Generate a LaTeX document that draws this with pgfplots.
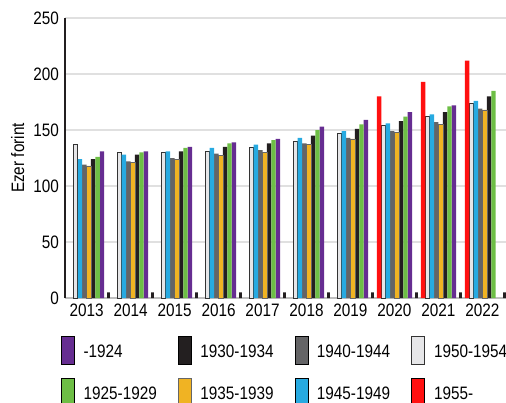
\documentclass[border=0pt]{standalone}
\usepackage{pgfplots}
\pgfplotsset{compat=1.18}
\usepackage{fontspec}
\setmainfont{Liberation Sans}[FakeStretch=0.85]

\definecolor{cPurple}{HTML}{662D91}
\definecolor{cBlack}{HTML}{231F20}
\definecolor{cDgray}{HTML}{646466}
\definecolor{cLgray}{HTML}{E6E6E8}
\definecolor{cGreen}{HTML}{6DBE45}
\definecolor{cOrange}{HTML}{F0B323}
\definecolor{cBlue}{HTML}{27AAE1}
\definecolor{cRed}{HTML}{FF1010}

\pgfplotsset{
  boxlegend/.style={legend image code/.code={\draw[##1] (0pt,-11.5pt) rectangle (13pt,16.5pt);}},
  bars/.style={ybar, bar width=0.1, boxlegend},
}

% values by cohort, x = 0..9 for 2013..2022
\pgfplotstableread{
x  lg   bl   dg   or   bk   gr   pu
0  137  124  119  118  124  126  131
1  130  128  122  121  128  130  131
2  130  131  125  124  131  134  135
3  131  134  129  127  135  138  139
4  134  137  132  130  138  141  142
5  140  143  138  137  145  150  153
6  147  149  143  142  151  155  159
7  154  156  149  148  158  162  166
8  162  164  157  155  166  171  172
9  174  176  169  168  180  185  nan
}\cohorts

\begin{document}
\fontsize{18}{21}\selectfont
\begin{tikzpicture}
\begin{axis}[
  scale only axis,
  width=441pt, height=280pt,
  at={(0,0)}, anchor=south west,
  xmin=-0.49, xmax=9.535,
  ymin=0, ymax=250,
  xtick={0,...,9},
  xticklabels={2013,2014,2015,2016,2017,2018,2019,2020,2021,2022},
  ytick={0,50,...,250},
  /pgf/number format/assume math mode=true,
  major tick length=0pt,
  axis x line*=bottom,
  axis y line*=left,
  x axis line style={draw=black!25, line width=2pt},
  y axis line style={draw=cBlack, line width=2.5pt},
  ymajorgrids,
  grid style={draw=black!12, line width=1.5pt},
  ylabel={Ezer forint},
  every axis y label/.style={at={(axis description cs:-0.107,0.5)}, rotate=90, anchor=center},
  legend columns=4,
  legend cell align=left,
  legend style={at={(axis description cs:-0.009,-0.134)}, anchor=north west,
    draw=none, fill=none, inner sep=0pt, row sep=13pt,
    /tikz/every odd column/.append style={column sep=7pt},
    /tikz/every even column/.append style={column sep=19pt}},
]
\addplot[bars, bar shift=0.35, fill=cPurple, draw=none] table[x=x, y=pu] {\cohorts};
\addlegendentry{-1924}
\addplot[bars, bar shift=0.15, fill=cBlack, draw=none] table[x=x, y=bk] {\cohorts};
\addlegendentry{1930-1934}
\addplot[bars, bar shift=-0.05, fill=cDgray, draw=none] table[x=x, y=dg] {\cohorts};
\addlegendentry{1940-1944}
\addplot[bars, bar shift=-0.25, fill=cLgray, draw=black!80, line width=0.9pt] table[x=x, y=lg] {\cohorts};
\addlegendentry{1950-1954}
\addplot[bars, bar shift=0.25, fill=cGreen, draw=none] table[x=x, y=gr] {\cohorts};
\addlegendentry{1925-1929}
\addplot[bars, bar shift=0.05, fill=cOrange, draw=black!60, line width=0.6pt] table[x=x, y=or] {\cohorts};
\addlegendentry{1935-1939}
\addplot[bars, bar shift=-0.15, fill=cBlue, draw=none] table[x=x, y=bl] {\cohorts};
\addlegendentry{1945-1949}
\addplot[bars, bar shift=-0.35, fill=cRed, draw=none] coordinates {(7,180) (8,193) (9,212)};
\addlegendentry{1955-}
% small dark bars at the group boundaries
\addplot[ybar, bar width=0.06, bar shift=0.5, fill=cBlack, draw=none, forget plot]
  coordinates {(0,5) (1,5) (2,5) (3,5) (4,5) (5,5) (6,5) (7,5) (8,5) (9,5)};
\end{axis}
\pgfresetboundingbox
\path (-65pt,-104pt) rectangle (441pt,298pt);
\end{tikzpicture}
\end{document}
